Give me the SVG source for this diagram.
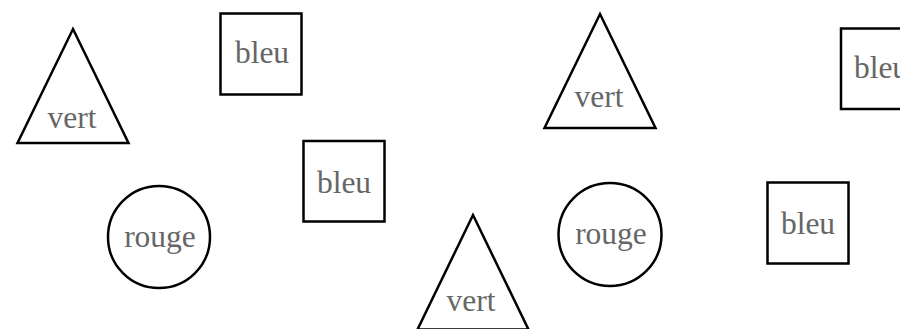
<svg xmlns="http://www.w3.org/2000/svg" width="900" height="329" viewBox="0 0 900 329">
<style>
.s{fill:#fff;stroke:#000;stroke-width:2.5}
.t{font-family:"Liberation Serif","Times New Roman",serif;font-size:31.5px;fill:#666;text-anchor:middle}
</style>
<rect width="900" height="329" fill="#fff"/>
<g id="tri1"><polygon class="s" points="73,29 128.5,143 17.5,143"/><text class="t" x="72" y="128">vert</text></g>
<g id="sq1"><rect class="s" x="220.5" y="13.5" width="81" height="81"/><text class="t" x="262" y="63">bleu</text></g>
<g id="sq2"><rect class="s" x="303.5" y="141" width="81" height="80.5"/><text class="t" x="344" y="193">bleu</text></g>
<g id="circ1"><circle class="s" cx="159" cy="237" r="51"/><text class="t" x="160" y="247">rouge</text></g>
<g id="tri2"><polygon class="s" points="473,215 528.5,329.5 417.5,329.5"/><text class="t" x="471" y="311">vert</text></g>
<g id="tri3"><polygon class="s" points="600,14 655.5,128 544.5,128"/><text class="t" x="599" y="107">vert</text></g>
<g id="circ2"><circle class="s" cx="610" cy="234.5" r="51.5"/><text class="t" x="611" y="244">rouge</text></g>
<g id="sq3"><rect class="s" x="767.5" y="182.5" width="81" height="81"/><text class="t" x="808" y="234">bleu</text></g>
<g id="sq4"><rect class="s" x="841" y="28.5" width="81" height="80.5"/><text class="t" x="881" y="78">bleu</text></g>
<g id="connectors"/>
</svg>
